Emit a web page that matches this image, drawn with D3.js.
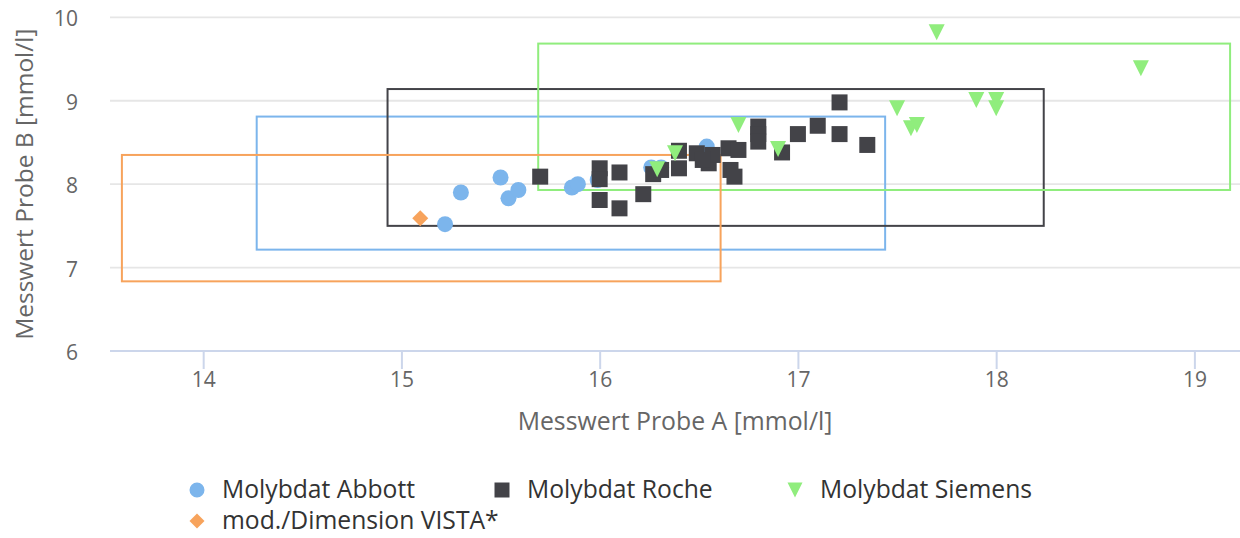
<!DOCTYPE html>
<html>
<head>
<meta charset="utf-8">
<script src="https://cdn.jsdelivr.net/npm/d3@7"></script>
<style>
  html, body { margin: 0; padding: 0; background: #ffffff; }
  svg { display: block; font-family: "Open Sans", sans-serif; }
</style>
</head>
<body>
<svg id="chart" width="1240" height="538"></svg>
<script>
// ---- data ----
const seriesNames = ["Molybdat Abbott", "Molybdat Roche", "Molybdat Siemens", "mod./Dimension VISTA*"];
const seriesColors = ["#7cb5ec", "#434348", "#90ed7d", "#f7a35c"];
const seriesSymbols = ["circle", "square", "triangle-down", "diamond"];

const abbottA = [15.22, 15.30, 15.50, 15.54, 15.59, 15.86, 15.89, 15.99, 16.26, 16.31, 16.54];
const abbottB = [7.52, 7.90, 8.08, 7.83, 7.93, 7.96, 8.00, 8.05, 8.20, 8.20, 8.45];

const rocheA = [15.70, 16.00, 16.00, 16.00, 16.10, 16.10, 16.22, 16.27, 16.31, 16.40, 16.40, 16.49, 16.55, 16.57, 16.52, 16.65, 16.70, 16.66, 16.68, 16.80, 16.80, 16.80, 16.92, 17.00, 17.10, 17.21, 17.21, 17.35];
const rocheB = [8.09, 8.19, 8.06, 7.81, 8.14, 7.71, 7.88, 8.12, 8.17, 8.40, 8.19, 8.37, 8.25, 8.35, 8.29, 8.43, 8.41, 8.17, 8.09, 8.69, 8.60, 8.51, 8.38, 8.60, 8.70, 8.98, 8.60, 8.47];

const siemensA = [16.29, 16.38, 16.70, 16.90, 17.50, 17.57, 17.60, 17.70, 17.90, 18.00, 18.00, 18.73];
const siemensB = [8.18, 8.37, 8.71, 8.42, 8.91, 8.67, 8.71, 9.82, 9.01, 9.01, 8.91, 9.39];

const vistaA = [15.095];
const vistaB = [7.59];

// acceptance ranges per series: [A min, A max, B min, B max]
const rangeAbbott  = [14.27, 17.44, 7.215, 8.81];
const rangeRoche   = [14.93, 18.24, 7.50, 9.14];
const rangeSiemens = [15.69, 19.18, 7.93, 9.685];
const rangeVista   = [13.59, 16.61, 6.835, 8.35];

const xTicks = [14, 15, 16, 17, 18, 19];
const yTicks = [6, 7, 8, 9, 10];
const xTitle = "Messwert Probe A [mmol/l]";
const yTitle = "Messwert Probe B [mmol/l]";

// ---- layout ----
const svg = d3.select("#chart");
const plot = { left: 110, right: 1240, top: 17.3, bottom: 351 };
const x = d3.scaleLinear().domain([13.53, 19.23]).range([plot.left, plot.right]);
const y = d3.scaleLinear().domain([6, 10]).range([plot.bottom, plot.top]);

// grid lines
svg.append("g").selectAll("line").data(yTicks.filter(t => t !== 6)).join("line")
  .attr("x1", plot.left).attr("x2", plot.right)
  .attr("y1", d => y(d)).attr("y2", d => y(d))
  .attr("stroke", "#e6e6e6").attr("stroke-width", 1.8);

// y tick labels
svg.append("g").selectAll("text").data(yTicks).join("text")
  .attr("x", 78).attr("y", d => y(d) + 9)
  .attr("text-anchor", "end")
  .attr("font-size", 21).attr("fill", "#666666")
  .text(d => d);

// x axis
const xAxis = d3.axisBottom(x).tickValues(xTicks).tickSize(18).tickPadding(5).tickFormat(d3.format("d"));
const gx = svg.append("g").attr("transform", `translate(0,${plot.bottom})`).call(xAxis);
gx.select(".domain").attr("stroke", "#ccd6eb").attr("stroke-width", 2).attr("d", `M${plot.left},0H${plot.right}`);
gx.selectAll(".tick line").attr("stroke", "#ccd6eb").attr("stroke-width", 2);
gx.selectAll(".tick text").attr("font-size", 21).attr("fill", "#666666")
  .attr("font-family", "Open Sans, sans-serif").attr("dy", null).attr("y", 36);

// axis titles
svg.append("text").attr("x", (plot.left + plot.right) / 2).attr("y", 430)
  .attr("text-anchor", "middle").attr("font-size", 24.8).attr("fill", "#666666").text(xTitle);
svg.append("text").attr("transform", `translate(33,${(plot.top + plot.bottom) / 2}) rotate(-90)`)
  .attr("text-anchor", "middle").attr("font-size", 24.5).attr("fill", "#666666").text(yTitle);

// range boxes
const ranges = [rangeAbbott, rangeRoche, rangeSiemens, rangeVista];
svg.append("g").selectAll("rect").data(ranges).join("rect")
  .attr("x", d => x(d[0])).attr("width", d => x(d[1]) - x(d[0]))
  .attr("y", d => y(d[3])).attr("height", d => y(d[2]) - y(d[3]))
  .attr("fill", "none").attr("stroke", (d, i) => seriesColors[i]).attr("stroke-width", 2);

// marker path
function markerPath(sym, cx, cy, r) {
  switch (sym) {
    case "circle":
      return `M${cx - r},${cy}a${r},${r} 0 1,0 ${2 * r},0a${r},${r} 0 1,0 ${-2 * r},0Z`;
    case "square":
      return `M${cx - r},${cy - r}H${cx + r}V${cy + r}H${cx - r}Z`;
    case "triangle-down":
      return `M${cx - r},${cy - r}H${cx + r}L${cx},${cy + r}Z`;
    case "diamond":
      return `M${cx},${cy - r}L${cx + r},${cy}L${cx},${cy + r}L${cx - r},${cy}Z`;
  }
}

const pointSets = [
  [abbottA, abbottB], [rocheA, rocheB], [siemensA, siemensB], [vistaA, vistaB]
];
pointSets.forEach((ps, i) => {
  const pts = ps[0].map((a, k) => [a, ps[1][k]]);
  svg.append("g").selectAll("path").data(pts).join("path")
    .attr("d", d => markerPath(seriesSymbols[i], x(d[0]), y(d[1]), 8))
    .attr("fill", seriesColors[i]);
});

// legend
const legendPos = [[197, 490], [502, 490], [795, 490], [197, 521]];
const lg = svg.append("g");
seriesNames.forEach((name, i) => {
  const [lx, ly] = legendPos[i];
  lg.append("path").attr("d", markerPath(seriesSymbols[i], lx, ly, 7.5)).attr("fill", seriesColors[i]);
  lg.append("text").attr("x", lx + 25).attr("y", ly + 8)
    .attr("font-size", 24.7).attr("fill", "#333333").text(name);
});
</script>
</body>
</html>
